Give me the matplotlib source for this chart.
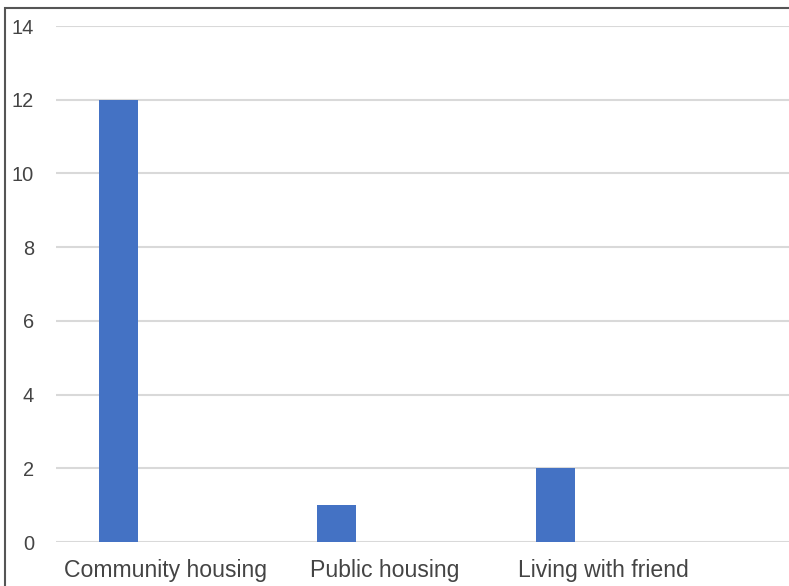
import matplotlib
matplotlib.use("Agg")
import matplotlib.pyplot as plt
from matplotlib.patches import Rectangle
import numpy as np

categories = ["Community housing", "Public housing", "Living with friend"]
counts = [12, 1, 2]
y_ticks = [0, 2, 4, 6, 8, 10, 12, 14]

W, H = 789, 586
fig = plt.figure(figsize=(W / 100, H / 100), dpi=100)
plt.rcParams["font.family"] = ["Liberation Sans", "DejaVu Sans"]

left, right, bottom, top = 56, 789, 542, 26
ax = fig.add_axes([left / W, (H - bottom) / H, (right - left) / W, (bottom - top) / H])

x = np.arange(len(categories))
slot_px = 218.5
bar_w = 39 / slot_px
offset = -48 / slot_px
ax.bar(x + offset, counts, width=bar_w, color="#4472C4", zorder=3)

ax.set_ylim(0, 14)
ax.set_xlim(-110 / slot_px, (right - 166) / slot_px)
ax.set_yticks(y_ticks)
ax.set_yticklabels([str(v) for v in y_ticks])
ax.set_xticks(x)
ax.set_xticklabels(categories)
ax.tick_params(axis="y", length=0, pad=15.8, labelsize=14.4, labelcolor="#444444")
for lbl in ax.get_yticklabels():
    lbl.set_y(lbl.get_position()[1])
    lbl.set_verticalalignment("center_baseline")
ax.tick_params(axis="x", length=0, pad=12.5, labelsize=16.6, labelcolor="#444444")
ax.yaxis.grid(True, color="#d9d9d9", linewidth=1.5, zorder=0)
ax.set_axisbelow(True)
for s in ax.spines.values():
    s.set_visible(False)

# outer frame of the chart card
fig.patches.append(Rectangle((5 / W, -0.1), 1.2, (H - 8) / H + 0.1,
                             transform=fig.transFigure, fill=False,
                             edgecolor="#555555", linewidth=1.5))

fig.savefig("out.png", dpi=100)
